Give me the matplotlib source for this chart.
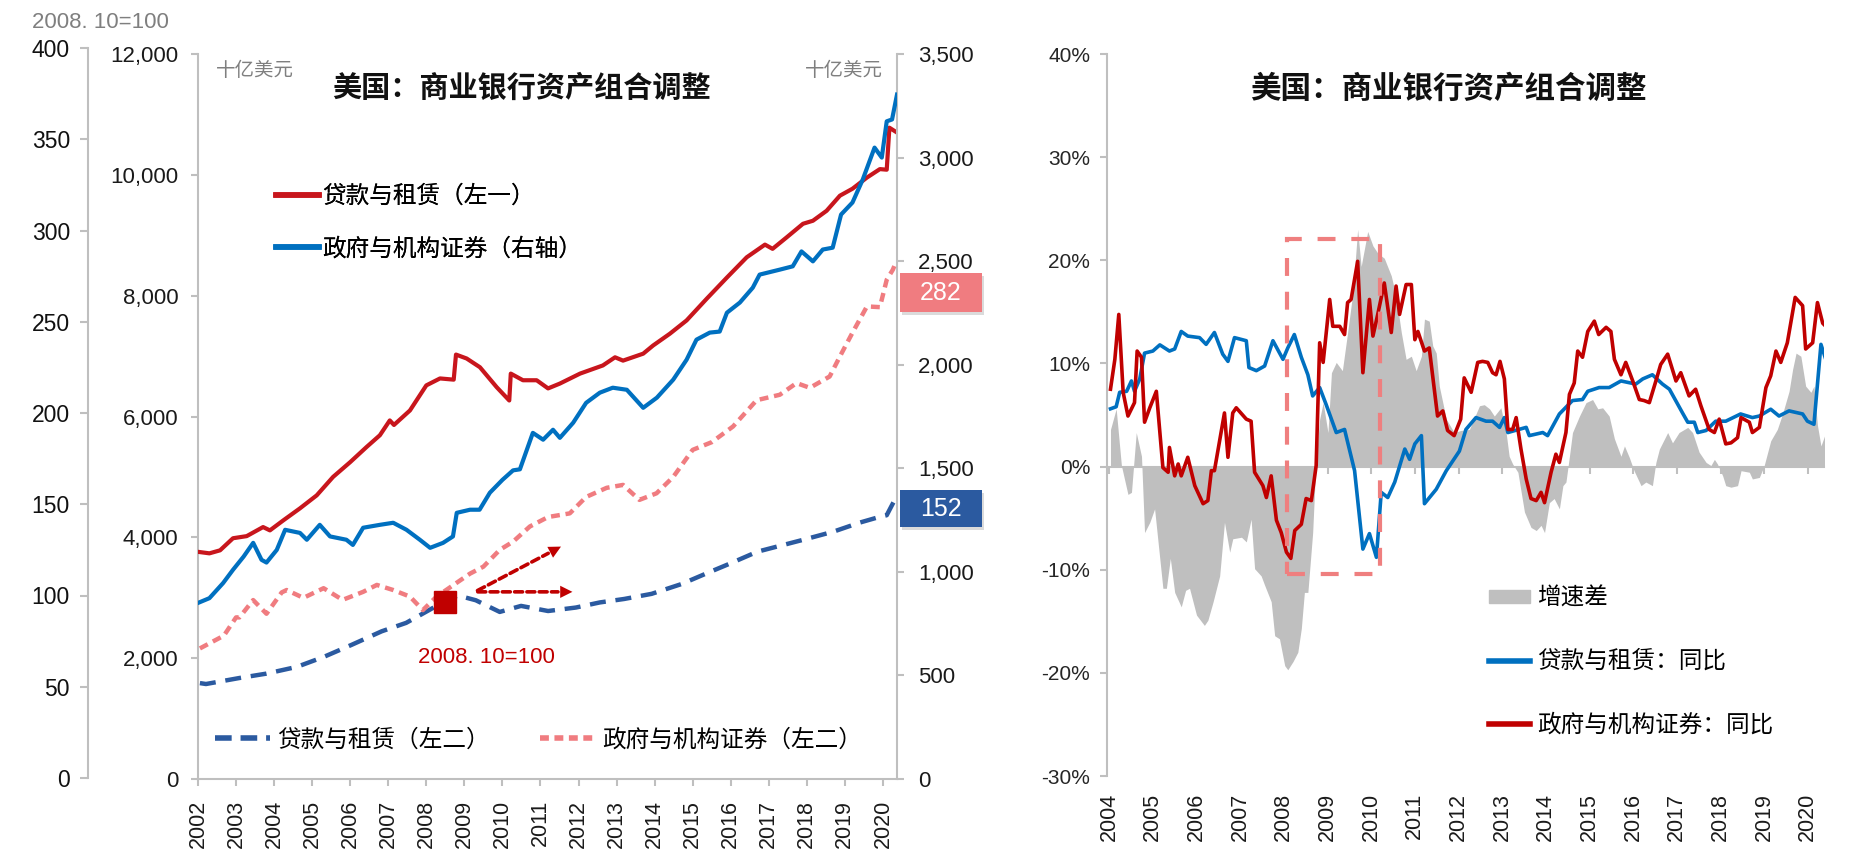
import matplotlib
matplotlib.use('Agg')
import matplotlib.pyplot as plt
from matplotlib.lines import Line2D
from matplotlib.patches import Patch, Rectangle

# ---------------- data: left panel ----------------
years_left = list(range(2002, 2021))
loans_t = [2002.0, 2002.3, 2002.58, 2002.92, 2003.28, 2003.71, 2003.89, 2004.24, 2004.68, 2005.12,
           2005.55, 2006.0, 2006.43, 2006.78, 2007.04, 2007.15, 2007.57, 2008.0, 2008.36, 2008.72,
           2008.78, 2009.06, 2009.41, 2009.85, 2010.18, 2010.22, 2010.54, 2010.9, 2011.2, 2011.51,
           2012.04, 2012.64, 2012.96, 2013.17, 2013.7, 2013.96, 2014.4, 2014.84, 2015.37, 2015.9,
           2016.42, 2016.9, 2017.1, 2017.47, 2017.9, 2018.16, 2018.52, 2018.87, 2019.2, 2019.58,
           2019.92, 2020.1, 2020.17, 2020.37]
loans_v = [3760, 3735, 3785, 3985, 4020, 4170, 4115, 4280, 4480, 4695,
           5000, 5245, 5495, 5690, 5935, 5860, 6100, 6515, 6630, 6610,
           7025, 6960, 6815, 6485, 6265, 6710, 6600, 6600, 6465, 6545,
           6710, 6845, 6980, 6925, 7040, 7175, 7370, 7590, 7950, 8300,
           8635, 8845, 8775, 8965, 9190, 9240, 9405, 9655, 9770, 9955,
           10095, 10085, 10780, 10700]

secs_t = [2002.0, 2002.3, 2002.66, 2002.92, 2003.2, 2003.45, 2003.67, 2003.8, 2004.07, 2004.29,
          2004.68, 2004.86, 2005.2, 2005.47, 2005.9, 2006.07, 2006.34, 2006.78, 2007.13, 2007.48,
          2007.83, 2008.1, 2008.44, 2008.7, 2008.8, 2009.15, 2009.4, 2009.67, 2010.0, 2010.28,
          2010.46, 2010.8, 2011.07, 2011.33, 2011.51, 2011.86, 2012.2, 2012.56, 2012.9, 2013.27,
          2013.7, 2014.06, 2014.49, 2014.84, 2015.1, 2015.45, 2015.71, 2015.9, 2016.24, 2016.58,
          2016.76, 2017.29, 2017.63, 2017.86, 2018.16, 2018.42, 2018.68, 2018.9, 2019.2, 2019.47,
          2019.78, 2019.97, 2020.1, 2020.24, 2020.37]
secs_v = [850, 873, 946, 1010, 1074, 1140, 1058, 1045, 1106, 1203,
          1188, 1155, 1227, 1171, 1155, 1130, 1213, 1227, 1237, 1203,
          1155, 1116, 1140, 1171, 1285, 1300, 1300, 1382, 1444, 1490,
          1495, 1671, 1638, 1686, 1647, 1720, 1816, 1865, 1889, 1879,
          1792, 1841, 1928, 2024, 2121, 2155, 2160, 2251, 2300, 2372,
          2435, 2459, 2475, 2547, 2499, 2556, 2565, 2725, 2783, 2894,
          3048, 3000, 3175, 3184, 3304]

secs_idx_t = [2002.05, 2002.68, 2003.0, 2003.09, 2003.45, 2003.8, 2004.2, 2004.33, 2004.77, 2005.3,
              2005.8, 2006.34, 2006.7, 2007.13, 2007.57, 2007.91, 2008.27, 2008.8, 2009.15, 2009.5,
              2009.93, 2010.28, 2010.72, 2011.2, 2011.77, 2012.2, 2012.74, 2013.17, 2013.6, 2014.05,
              2014.49, 2015.0, 2015.5, 2016.06, 2016.68, 2017.29, 2017.73, 2018.08, 2018.6, 2018.87,
              2019.2, 2019.58, 2019.92, 2020.1, 2020.26, 2020.33]
secs_idx_v = [71, 78, 88, 88, 97.5, 90, 101.7, 103, 98.7, 104,
              97.6, 102, 105.8, 103, 99.4, 92, 99.4, 107, 112, 115.8,
              125, 129.5, 137.8, 143, 145, 154, 159, 160.6, 152.4, 156,
              165, 179.8, 184, 192.6, 207, 210, 216.4, 213.8, 220, 231,
              244, 258.4, 258, 273, 278.5, 282]

loans_idx_t = [2002.05, 2002.21, 2003.09, 2003.8, 2004.6, 2005.31, 2006.03, 2006.83, 2007.47, 2008.03,
               2008.5, 2008.83, 2009.3, 2009.93, 2010.49, 2011.2, 2011.93, 2012.56, 2013.2, 2013.92,
               2014.71, 2015.35, 2015.98, 2016.7, 2017.9, 2018.7, 2019.4, 2019.9, 2020.1, 2020.3]
loans_idx_v = [52, 51.5, 54.8, 57.2, 60.9, 66.4, 72.9, 80.4, 85, 91.5,
               97, 100, 97.4, 91, 94.3, 91.5, 93.4, 96.2, 98.1, 100.9,
               106.3, 112, 117.5, 124, 130.5, 135, 140, 143, 144, 152]

# ---------------- data: right panel ----------------
years_right = list(range(2004, 2021))
loan_yoy_t = [2004.03, 2004.16, 2004.24, 2004.4, 2004.51, 2004.58, 2004.7, 2004.81, 2005.0, 2005.16,
              2005.38, 2005.5, 2005.65, 2005.8, 2006.07, 2006.22, 2006.41, 2006.6, 2006.72, 2006.87,
              2007.14, 2007.2, 2007.37, 2007.56, 2007.75, 2007.98, 2008.09, 2008.24, 2008.4, 2008.55,
              2008.66, 2008.82, 2008.97, 2009.2, 2009.39, 2009.62, 2009.81, 2009.96, 2010.12, 2010.23,
              2010.38, 2010.54, 2010.77, 2010.88, 2011.0, 2011.15, 2011.22, 2011.49, 2011.72, 2012.02,
              2012.17, 2012.4, 2012.63, 2012.78, 2012.94, 2013.05, 2013.13, 2013.55, 2013.62, 2013.93,
              2014.04, 2014.31, 2014.61, 2014.84, 2014.96, 2015.22, 2015.45, 2015.72, 2016.06, 2016.22,
              2016.44, 2016.67, 2016.83, 2017.13, 2017.25, 2017.4, 2017.48, 2017.67, 2017.89, 2018.12,
              2018.46, 2018.73, 2018.89, 2019.15, 2019.34, 2019.57, 2019.88, 2019.99, 2020.14, 2020.3,
              2020.41]
loan_yoy_v = [5.6, 5.8, 7.2, 7.3, 8.3, 7.3, 8.5, 11.0, 11.2, 11.8,
              11.2, 11.4, 13.1, 12.65, 12.5, 11.85, 13.0, 10.9, 10.2, 12.5,
              12.2, 9.6, 9.3, 9.75, 12.2, 10.4, 11.5, 12.8, 10.6, 8.9,
              6.85, 7.66, 6.0, 3.3, 3.6, -0.4, -8.0, -6.5, -8.8, -2.5,
              -3.0, -1.5, 1.7, 0.7, 2.2, 3.0, -3.6, -2.2, -0.4, 1.5,
              3.6, 4.75, 4.4, 4.4, 3.8, 4.75, 3.3, 3.8, 3.0, 3.3,
              3.0, 5.1, 6.4, 6.5, 7.3, 7.66, 7.66, 8.3, 8.0, 8.5,
              8.9, 8.0, 7.5, 5.2, 4.3, 4.3, 3.3, 3.5, 4.4, 4.4,
              5.1, 4.75, 4.9, 5.56, 4.9, 5.4, 5.1, 4.4, 4.1, 11.85,
              10.4]

sec_yoy_t = [2004.03, 2004.13, 2004.22, 2004.32, 2004.43, 2004.58, 2004.64, 2004.74, 2004.81, 2004.93,
             2005.08, 2005.23, 2005.35, 2005.38, 2005.5, 2005.58, 2005.65, 2005.8, 2005.96, 2006.15,
             2006.26, 2006.34, 2006.41, 2006.64, 2006.72, 2006.83, 2006.91, 2007.14, 2007.25, 2007.33,
             2007.52, 2007.6, 2007.71, 2007.83, 2007.94, 2008.06, 2008.16, 2008.25, 2008.4, 2008.51,
             2008.63, 2008.74, 2008.82, 2008.9, 2009.05, 2009.12, 2009.28, 2009.39, 2009.46, 2009.54,
             2009.69, 2009.81, 2009.96, 2010.04, 2010.15, 2010.3, 2010.46, 2010.57, 2010.65, 2010.8,
             2010.92, 2011.0, 2011.07, 2011.22, 2011.33, 2011.52, 2011.64, 2011.75, 2011.9, 2012.05,
             2012.13, 2012.29, 2012.44, 2012.55, 2012.67, 2012.78, 2012.86, 2012.95, 2013.05, 2013.13,
             2013.24, 2013.32, 2013.43, 2013.55, 2013.66, 2013.78, 2013.89, 2013.97, 2014.12, 2014.23,
             2014.31, 2014.46, 2014.54, 2014.65, 2014.73, 2014.84, 2014.96, 2015.11, 2015.21, 2015.38,
             2015.49, 2015.57, 2015.72, 2015.83, 2015.99, 2016.14, 2016.25, 2016.37, 2016.52, 2016.63,
             2016.79, 2016.98, 2017.09, 2017.28, 2017.43, 2017.55, 2017.74, 2017.86, 2017.97, 2018.12,
             2018.24, 2018.39, 2018.47, 2018.66, 2018.73, 2018.89, 2019.04, 2019.15, 2019.27, 2019.38,
             2019.53, 2019.71, 2019.88, 2019.95, 2020.11, 2020.22, 2020.34, 2020.41]
sec_yoy_v = [7.5, 10.4, 14.75, 7.2, 4.9, 6.2, 11.2, 10.6, 4.3, 5.7,
             7.3, -0.1, -0.55, 1.85, -0.9, 0.25, -0.9, 0.9, -1.85, -3.6,
             -3.3, -0.4, -0.4, 5.2, 0.9, 5.2, 5.7, 4.6, 4.4, -0.55,
             -1.85, -3.0, -0.9, -5.2, -6.4, -8.3, -8.9, -6.2, -5.6, -3.1,
             -3.3, 0.1, 12.0, 10.1, 16.2, 13.6, 13.6, 12.8, 15.9, 16.2,
             19.9, 9.1, 16.2, 12.65, 14.75, 17.8, 13.0, 17.5, 14.75, 17.65,
             17.65, 12.3, 13.1, 11.2, 11.5, 4.9, 5.4, 3.5, 3.0, 4.6,
             8.6, 7.2, 10.1, 10.2, 10.1, 9.1, 8.9, 10.2, 8.5, 3.6,
             3.6, 4.75, 1.7, -1.2, -3.1, -3.3, -2.5, -3.5, -0.55, 1.2,
             0.4, 3.3, 7.0, 8.1, 11.2, 10.6, 13.1, 14.1, 12.8, 13.5,
             13.1, 10.4, 8.9, 10.1, 8.3, 6.5, 6.4, 6.2, 8.3, 9.9,
             10.9, 8.3, 9.1, 6.85, 7.5, 5.9, 3.6, 3.3, 4.6, 2.2,
             2.3, 2.8, 4.75, 4.3, 3.3, 3.8, 7.66, 8.8, 11.2, 10.1,
             12.0, 16.4, 15.6, 11.4, 12.0, 15.9, 13.9, 13.6]

gap_t = [2004.03, 2004.16, 2004.28, 2004.43, 2004.51, 2004.62, 2004.74, 2004.81, 2004.93, 2005.04,
         2005.23, 2005.31, 2005.4, 2005.5, 2005.65, 2005.75, 2005.84, 2006.0, 2006.18, 2006.26,
         2006.38, 2006.53, 2006.64, 2006.76, 2006.83, 2007.03, 2007.14, 2007.25, 2007.33, 2007.48,
         2007.56, 2007.71, 2007.79, 2007.9, 2008.02, 2008.09, 2008.21, 2008.32, 2008.4, 2008.47,
         2008.55, 2008.66, 2008.73, 2008.82, 2008.9, 2009.01, 2009.09, 2009.2, 2009.34, 2009.46,
         2009.58, 2009.69, 2009.77, 2009.92, 2010.04, 2010.15, 2010.3, 2010.46, 2010.57, 2010.69,
         2010.8, 2010.92, 2011.03, 2011.15, 2011.22, 2011.33, 2011.41, 2011.49, 2011.56, 2011.72,
         2011.9, 2012.05, 2012.25, 2012.48, 2012.59, 2012.71, 2012.82, 2012.97, 2013.09, 2013.16,
         2013.24, 2013.36, 2013.51, 2013.66, 2013.78, 2013.89, 2013.97, 2014.08, 2014.19, 2014.31,
         2014.39, 2014.46, 2014.54, 2014.61, 2014.77, 2014.92, 2015.07, 2015.19, 2015.3, 2015.45,
         2015.57, 2015.72, 2015.8, 2015.91, 2016.02, 2016.18, 2016.29, 2016.44, 2016.52, 2016.6,
         2016.79, 2016.9, 2017.05, 2017.25, 2017.36, 2017.51, 2017.67, 2017.78, 2017.86, 2017.93,
         2018.05, 2018.12, 2018.24, 2018.39, 2018.47, 2018.66, 2018.73, 2018.89, 2019.0, 2019.15,
         2019.3, 2019.42, 2019.57, 2019.65, 2019.73, 2019.84, 2019.95, 2020.07, 2020.14, 2020.22,
         2020.3, 2020.41]
gap_v = [3.6, 5.6, 0.1, -2.7, -2.5, 3.3, 1.0, -6.4, -5.4, -4.1,
         -11.8, -11.8, -8.9, -12.2, -13.6, -12.0, -11.8, -14.4, -15.4, -14.9,
         -13.1, -10.6, -5.4, -8.3, -7.0, -6.85, -7.3, -5.1, -9.9, -10.6,
         -11.5, -13.1, -16.4, -16.7, -19.3, -19.7, -18.9, -18.0, -15.7, -12.2,
         -12.2, -6.4, 0.1, 4.6, 6.2, 3.3, 9.1, 10.1, 9.3, 13.0,
         16.85, 23.0, 19.4, 22.8, 21.4, 20.7, 20.2, 18.5, 16.5, 13.0,
         10.4, 10.7, 9.3, 10.7, 14.3, 14.1, 11.7, 11.0, 7.8, 4.6,
         3.3, 3.5, 3.6, 5.9, 6.0, 5.6, 4.9, 5.7, 3.3, 1.0,
         0.25, -0.55, -4.4, -5.9, -6.2, -5.7, -6.4, -3.5, -3.1, -4.1,
         -1.85, -1.5, 1.0, 3.3, 4.9, 6.2, 6.5, 5.6, 5.7, 4.9,
         2.7, 1.0, 2.0, 0.9, -0.4, -1.85, -1.5, -1.85, 0.4, 1.7,
         3.3, 2.3, 3.3, 3.8, 3.3, 1.4, 0.4, 0.1, 0.7, 0.25,
         -0.9, -1.85, -2.0, -1.85, -0.4, -0.55, -1.2, -1.05, 0.1, 2.5,
         3.6, 5.1, 7.3, 9.4, 11.0, 10.7, 7.8, 7.2, 7.8, 4.0,
         2.0, 3.3]

# ---------------- styling ----------------
W, H = 1851, 866
CJK = ['Noto Sans CJK SC', 'DejaVu Sans']
NUM = ['Liberation Sans', 'DejaVu Sans']
plt.rcParams['font.family'] = CJK
SPINE = '#BFBFBF'
RED_L, BLUE_L = '#C8161D', '#0070C0'
PINK, DBLUE = '#F07C80', '#2B5AA0'
RED_R, BLUE_R, GRAY_F = '#C00000', '#0070C0', '#BFBFBF'


def fx(px):
    return px / W


def fy(py):
    return 1 - py / H


fig = plt.figure(figsize=(W / 100, H / 100), dpi=100)

# ----- left panel: inner-left axis (billion USD) -----
ax1 = fig.add_axes([fx(198), fy(779), (897 - 198) / W, (779 - 54) / H])
ax1.set_xlim(2002.0, 2020.37)
ax1.set_ylim(0, 12000)
for s in ['top', 'right']:
    ax1.spines[s].set_visible(False)
for s in ['left', 'bottom']:
    ax1.spines[s].set_color(SPINE)
    ax1.spines[s].set_linewidth(1.5)
ax1.set_yticks(range(0, 12001, 2000))
ax1.set_yticklabels([f'{v:,}' for v in range(0, 12001, 2000)], fontfamily=NUM, fontsize=16)
ax1.set_xticks(years_left)
ax1.set_xticklabels([str(y) for y in years_left], rotation=90, fontfamily=NUM, fontsize=15.5)
ax1.tick_params(axis='y', length=5, width=1.5, color=SPINE, pad=9, labelcolor='#1a1a1a')
ax1.tick_params(axis='x', length=5, width=1.5, color=SPINE, pad=10, labelcolor='#1a1a1a')
ax1.patch.set_visible(False)
ax1.plot(loans_t, loans_v, color=RED_L, lw=3, zorder=3, solid_joinstyle='round')

# ----- right axis -----
ax1r = ax1.twinx()
ax1r.set_ylim(0, 3500)
for s in ['top', 'left', 'bottom']:
    ax1r.spines[s].set_visible(False)
ax1r.spines['right'].set_color(SPINE)
ax1r.spines['right'].set_linewidth(1.5)
ax1r.set_yticks(range(0, 3501, 500))
ax1r.set_yticklabels([f'{v:,}' for v in range(0, 3501, 500)], fontfamily=NUM, fontsize=16)
ax1r.tick_params(axis='y', length=5, width=1.5, color=SPINE, pad=10, labelcolor='#1a1a1a')
ax1r.plot(secs_t, secs_v, color=BLUE_L, lw=3, zorder=3, solid_joinstyle='round')

# ----- outer-left index axis (2008.10=100) -----
ax0 = fig.add_axes([fx(198), fy(778), (897 - 198) / W, (778 - 48) / H])
ax0.patch.set_visible(False)
ax0.set_xlim(2002.0, 2020.37)
ax0.set_ylim(0, 400)
for s in ['top', 'right', 'bottom']:
    ax0.spines[s].set_visible(False)
ax0.spines['left'].set_position(('axes', -(198 - 88) / (897 - 198)))
ax0.spines['left'].set_color(SPINE)
ax0.spines['left'].set_linewidth(1.5)
ax0.set_yticks(range(0, 401, 50))
ax0.set_yticklabels([str(v) for v in range(0, 401, 50)], fontfamily=NUM, fontsize=16.5)
ax0.tick_params(axis='y', length=6, width=1.5, color=SPINE, pad=7, labelcolor='#111111')
ax0.set_xticks([])
ax0.plot(loans_idx_t, loans_idx_v, color=DBLUE, lw=3.2, ls=(0, (3.6, 2.2)), zorder=2)
ax0.plot(secs_idx_t, secs_idx_v, color=PINK, lw=3.2, ls=(0, (2.0, 1.3)), zorder=2)

# base-point marker and arrows
base_t, base_v = 2008.5, 96.5
ax0.plot([base_t], [base_v], marker='s', ms=16.5, color='#C00000', ls='none', zorder=6)
arrow_start = (2009.28, 102)
arrow_ends = [(2011.84, 102), (2011.54, 126.8)]
for (ex, ey) in arrow_ends:
    sx, sy = arrow_start
    ax0.annotate('', xy=(sx + (ex - sx) * 0.88, sy + (ey - sy) * 0.88), xytext=arrow_start,
                 arrowprops=dict(arrowstyle='-', color='#C00000', lw=2.6, ls=(0, (2.2, 1.2))), zorder=6)
    ax0.annotate('', xy=(ex, ey), xytext=(sx + (ex - sx) * 0.80, sy + (ey - sy) * 0.80),
                 arrowprops=dict(arrowstyle='-|>', color='#C00000', lw=0, mutation_scale=22,
                                 shrinkA=0, shrinkB=0), zorder=6)
ax0.text(2009.57, 65.8, '2008. 10=100', color='#C00000', fontsize=16, fontfamily=NUM,
         ha='center', va='center')

# end-value boxes
for val, col, ytop, ybot in [(secs_idx_v[-1], PINK, 273, 312), (loans_idx_v[-1], DBLUE, 490, 527)]:
    fig.patches.append(Rectangle((fx(902), fy(ybot + 3)), (82) / W, (ybot - ytop) / H,
                                 transform=fig.transFigure, fc='#9a9a9a', ec='none', alpha=0.35, zorder=9))
    fig.patches.append(Rectangle((fx(900), fy(ybot)), (82) / W, (ybot - ytop) / H,
                                 transform=fig.transFigure, fc=col, ec='none', zorder=10))
    fig.text(fx(941), fy((ytop + ybot) / 2), f'{val:.0f}', color='white', fontsize=18,
             fontfamily=NUM, ha='center', va='center', zorder=11)

# texts
fig.text(fx(521), fy(88), '美国：商业银行资产组合调整', ha='center', va='center', fontsize=21,
         fontweight='bold', color='#111111')
fig.text(fx(255), fy(70), '十亿美元', ha='center', va='center', fontsize=14, color='#7F7F7F')
fig.text(fx(844), fy(71), '十亿美元', ha='center', va='center', fontsize=14, color='#7F7F7F')
fig.text(fx(32), fy(23), '2008. 10=100', ha='left', va='center', fontsize=16, color='#7F7F7F',
         fontfamily=NUM)

# legends left
leg1 = ax0.legend([Line2D([], [], color=RED_L, lw=4), Line2D([], [], color=BLUE_L, lw=4)],
                  ['贷款与租赁（左一）', '政府与机构证券（右轴）'],
                  loc='upper left', bbox_to_anchor=(fx(276), fy(185)), bbox_transform=fig.transFigure,
                  frameon=False, fontsize=17, handlelength=1.8, handletextpad=0.15,
                  labelspacing=1.25, borderpad=0, borderaxespad=0)
ax0.add_artist(leg1)
ax1.legend([Line2D([], [], color=DBLUE, lw=4, ls=(0, (3.0, 1.6))),
            Line2D([], [], color=PINK, lw=4, ls=(0, (1.6, 1.0)))],
           ['贷款与租赁（左二）', '政府与机构证券（左二）'],
           loc='center left', bbox_to_anchor=(fx(215), fy(740)), bbox_transform=fig.transFigure,
           frameon=False, fontsize=17, ncol=2, handlelength=2.35, handletextpad=0.3,
           columnspacing=2.1, borderpad=0, borderaxespad=0)

# ---------------- right panel ----------------
ax2 = fig.add_axes([fx(1107), fy(776), (1824 - 1107) / W, (776 - 54) / H])
ax2.set_xlim(2003.95, 2020.37)
ax2.set_ylim(-30, 40)
ax2.fill_between(gap_t, 0, gap_v, color=GRAY_F, lw=0, zorder=1)
ax2.plot(loan_yoy_t, loan_yoy_v, color=BLUE_R, lw=2.6, zorder=3)
ax2.plot(sec_yoy_t, sec_yoy_v, color=RED_R, lw=2.6, zorder=4)
for s in ['top', 'right']:
    ax2.spines[s].set_visible(False)
ax2.spines['bottom'].set_position(('data', 0))
for s in ['left', 'bottom']:
    ax2.spines[s].set_color(SPINE)
    ax2.spines[s].set_linewidth(1.5)
ax2.spines['bottom'].set_zorder(2)
ax2.set_yticks(range(-30, 41, 10))
ax2.set_yticklabels([f'{v}%' for v in range(-30, 41, 10)], fontfamily=NUM, fontsize=15)
ax2.tick_params(axis='y', length=5, width=1.5, color=SPINE, pad=7, labelcolor='#262626')
ax2.set_xticks(years_right)
ax2.tick_params(axis='x', length=5, width=1.5, color=SPINE, labelbottom=False)
sec = ax2.secondary_xaxis(0)
sec.set_xticks(years_right)
sec.set_xticklabels([str(y) for y in years_right], rotation=90, fontfamily=NUM, fontsize=15.5,
                    color='#1a1a1a')
sec.tick_params(length=0, pad=12)
sec.spines['bottom'].set_visible(False)

# highlight box
box_t0, box_t1, box_lo, box_hi = 2008.07, 2010.2, -10.4, 22.1
ax2.add_patch(Rectangle((box_t0, box_lo), box_t1 - box_t0, box_hi - box_lo, fill=False,
                        ec='#EF7F7F', lw=3, ls=(0, (4.3, 3.8)), zorder=5))

fig.text(fx(1448), fy(89), '美国：商业银行资产组合调整', ha='center', va='center', fontsize=22,
         fontweight='bold', color='#111111')

ax2.legend([Patch(color=GRAY_F), Line2D([], [], color=BLUE_R, lw=4), Line2D([], [], color=RED_R, lw=4)],
           ['增速差', '贷款与租赁：同比', '政府与机构证券：同比'],
           loc='upper left', bbox_to_anchor=(fx(1489), fy(587)), bbox_transform=fig.transFigure,
           frameon=False, fontsize=17, handlelength=1.75, handleheight=0.45, handletextpad=0.3,
           labelspacing=1.7, borderpad=0, borderaxespad=0)

fig.savefig('out.png', dpi=100)
